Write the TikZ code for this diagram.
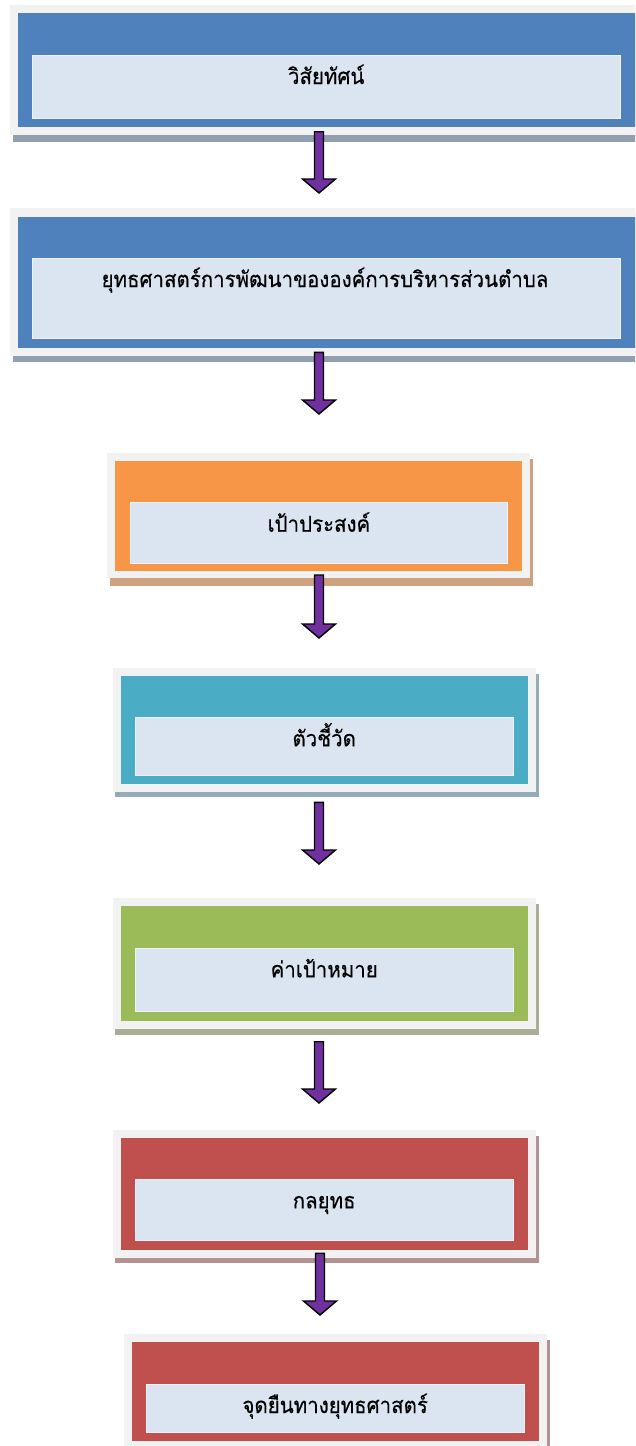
\documentclass[tikz,border=0pt]{standalone}
\usepackage{fontspec}
\newfontfamily\thaifont[Script=Thai,FakeStretch=0.93,FakeBold=0.4]{Loma}
\usetikzlibrary{calc,fit}
\definecolor{framegray}{HTML}{F2F2F2}
\definecolor{innerblue}{HTML}{DBE5F1}
\definecolor{cblue}{HTML}{4F81BD}
\definecolor{corange}{HTML}{F79646}
\definecolor{cteal}{HTML}{4BACC6}
\definecolor{cgreen}{HTML}{9BBB59}
\definecolor{cred}{HTML}{C0504D}
\definecolor{shblue}{HTML}{919FAF}
\definecolor{shorange}{HTML}{CFA27F}
\definecolor{shteal}{HTML}{92ADB7}
\definecolor{shgreen}{HTML}{A9AF94}
\definecolor{shred}{HTML}{B59292}
\definecolor{arrowpurple}{HTML}{7030A0}
\tikzset{
  framebox/.style={fill=framegray},
  colbox/.style={fill=#1},
  shadowbox/.style={fill=#1},
  innerbox/.style={fill=innerblue, draw=white!55!innerblue, line width=0.6pt, inner sep=0pt},
  lbl/.style={font=\thaifont\fontsize{22}{26}\selectfont, text=black, inner sep=0pt, anchor=base},
  barrow/.style={fill=arrowpurple, draw=black, line width=1.4pt, line join=miter}
}
\newcommand\blockarrow[2]{%
  \draw[barrow] let \p1=(#1), \p2=(#2) in
  (\x1-4.5pt,\y1) -- (\x1+4.5pt,\y1) -- (\x1+4.5pt,\y2+14pt) -- (\x1+16.5pt,\y2+14pt)
  -- (\x1,\y2) -- (\x1-16.5pt,\y2+14pt) -- (\x1-4.5pt,\y2+14pt) -- cycle;}
\begin{document}
\begin{tikzpicture}[x=1pt,y=-1pt]
\useasboundingbox (0,0) rectangle (635,1446);
\clip (0,0) rectangle (635,1446);
% Box 1
\fill[shadowbox=shblue] (12.7,11) rectangle (645,141.5);
\fill[framebox] (10,5) rectangle (645,135.3);
\fill[colbox=cblue] (17.7,12.7) rectangle (645,127.3);
\node[innerbox, fit={(32.3,55) (620,118.7)}] (i1) {};
\node[lbl] (t1) at (326.2,84) {วิสัยทัศน์};
% Box 2
\fill[shadowbox=shblue] (12.7,214) rectangle (645,361.7);
\fill[framebox] (10,208.3) rectangle (645,356);
\fill[colbox=cblue] (17.7,216.7) rectangle (645,348.3);
\node[innerbox, fit={(32.3,258) (620,338.3)}] (i2) {};
\node[lbl] (t2) at (325,287) {ยุทธศาสตร์การพัฒนาขององค์การบริหารส่วนตำบล};
% Box 3
\fill[shadowbox=shorange] (110,459) rectangle (532.7,585.5);
\fill[framebox] (107.3,453.3) rectangle (530,577.7);
\fill[colbox=corange] (115,461) rectangle (522.3,570.7);
\node[innerbox, fit={(130,502.7) (507.7,563.3)}] (i3) {};
\node[lbl] (t3) at (318.9,531.7) {เป้าประสงค์};
% Box 4
\fill[shadowbox=shteal] (115.4,674) rectangle (538.7,797.3);
\fill[framebox] (112.7,668.3) rectangle (536,791.7);
\fill[colbox=cteal] (120.7,675.7) rectangle (527.7,784.3);
\node[innerbox, fit={(135,717.3) (513.3,775)}] (i4) {};
\node[lbl] (t4) at (324.2,746.3) {ตัวชี้วัด};
% Box 5
\fill[shadowbox=shgreen] (115.4,904) rectangle (538.7,1035);
\fill[framebox] (112.7,898.3) rectangle (536,1029.3);
\fill[colbox=cgreen] (120.7,906) rectangle (527.7,1021);
\node[innerbox, fit={(135,948.3) (513.3,1011.7)}] (i5) {};
\node[lbl] (t5) at (324.2,977.3) {ค่าเป้าหมาย};
% Box 6
\fill[shadowbox=shred] (115.4,1136) rectangle (538.7,1262.7);
\fill[framebox] (112.7,1130) rectangle (536,1257.7);
\fill[colbox=cred] (120.7,1138.3) rectangle (527.7,1250);
\node[innerbox, fit={(135,1179.3) (513.3,1240.7)}] (i6) {};
\node[lbl] (t6) at (324.2,1208.3) {กลยุทธ};
% Box 7
\fill[shadowbox=shred] (126.4,1340) rectangle (549.7,1460);
\fill[framebox] (123.7,1334.3) rectangle (547,1455);
\fill[colbox=cred] (131.7,1342.3) rectangle (538.7,1440.7);
\node[innerbox, fit={(146,1384) (524.3,1432.3)}] (i7) {};
\node[lbl] (t7) at (335.2,1413) {จุดยืนทางยุทธศาสตร์};
% Arrows
\coordinate (a1s) at (319,131.7); \coordinate (a1e) at (319,193);
\coordinate (a2s) at (319,352.3); \coordinate (a2e) at (319,414);
\coordinate (a3s) at (319,575);   \coordinate (a3e) at (319,638);
\coordinate (a4s) at (319,802.3); \coordinate (a4e) at (319,864);
\coordinate (a5s) at (319,1041.7);\coordinate (a5e) at (319,1103);
\coordinate (a6s) at (320,1253.3);\coordinate (a6e) at (320,1315);
\blockarrow{a1s}{a1e}
\blockarrow{a2s}{a2e}
\blockarrow{a3s}{a3e}
\blockarrow{a4s}{a4e}
\blockarrow{a5s}{a5e}
\blockarrow{a6s}{a6e}
\end{tikzpicture}
\end{document}
